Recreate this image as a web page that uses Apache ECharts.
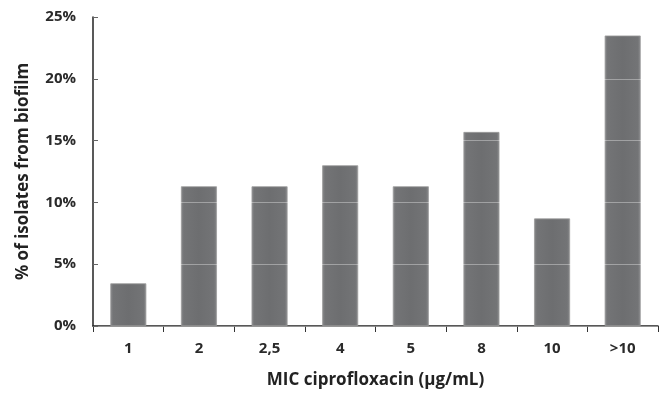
<!DOCTYPE html>
<html><head><meta charset="utf-8">
<script src="https://cdn.jsdelivr.net/npm/echarts@6/dist/echarts.min.js"></script>
<style>html,body{margin:0;padding:0;background:#fff}#c{width:661px;height:394px}</style>
</head><body><div id="c"></div>
<script>
var categories = ['1', '2', '2,5', '4', '5', '8', '10', '>10'];
var percentIsolates = [3.45, 11.3, 11.3, 13.0, 11.3, 15.7, 8.7, 23.5];
var yTicks = [0, 5, 10, 15, 20, 25];

var font = '"Open Sans", Lato, sans-serif';
var chart = echarts.init(document.getElementById('c'));
chart.setOption({
  animation: false,
  grid: { left: 93, right: 3, top: 17, bottom: 68, outerBoundsMode: 'none', containLabel: false },
  xAxis: {
    type: 'category',
    data: categories,
    name: 'MIC ciprofloxacin (µg/mL)',
    nameLocation: 'middle',
    nameGap: 46,
    nameTextStyle: { fontFamily: font, fontWeight: 'bold', fontSize: 17, color: '#222' },
    axisLine: { lineStyle: { color: '#222', width: 1.5 } },
    axisTick: { show: true, length: 6, lineStyle: { color: '#333' }, alignWithLabel: false },
    axisLabel: { fontFamily: font, fontWeight: 'bold', fontSize: 15, color: '#2a2a2a', margin: 15 }
  },
  yAxis: {
    type: 'value',
    min: yTicks[0],
    max: yTicks[yTicks.length - 1],
    interval: 5,
    z: 5,
    name: '% of isolates from biofilm',
    nameLocation: 'middle',
    nameGap: 61,
    nameTextStyle: { fontFamily: font, fontWeight: 'bold', fontSize: 17, color: '#222' },
    axisLine: { show: true, lineStyle: { color: '#222', width: 1.5 } },
    axisTick: { show: true, inside: true, length: 5, lineStyle: { color: '#666' } },
    axisLabel: { fontFamily: font, fontWeight: 'bold', fontSize: 15, color: '#2a2a2a', margin: 17,
      formatter: function (v) { return v + '%'; } },
    splitLine: { show: true, lineStyle: { color: 'rgba(255,255,255,0.35)', width: 1.2 } }
  },
  series: [{
    type: 'bar',
    data: percentIsolates,
    barWidth: 36,
    itemStyle: {
      color: new echarts.graphic.LinearGradient(0, 0, 1, 0, [
        { offset: 0, color: '#8a8b8d' },
        { offset: 0.08, color: '#737476' },
        { offset: 0.5, color: '#6d6e70' },
        { offset: 0.92, color: '#737476' },
        { offset: 1, color: '#8a8b8d' }
      ]),
      borderColor: '#9a9a9a',
      borderWidth: 0.8
    }
  }]
});
</script></body></html>
